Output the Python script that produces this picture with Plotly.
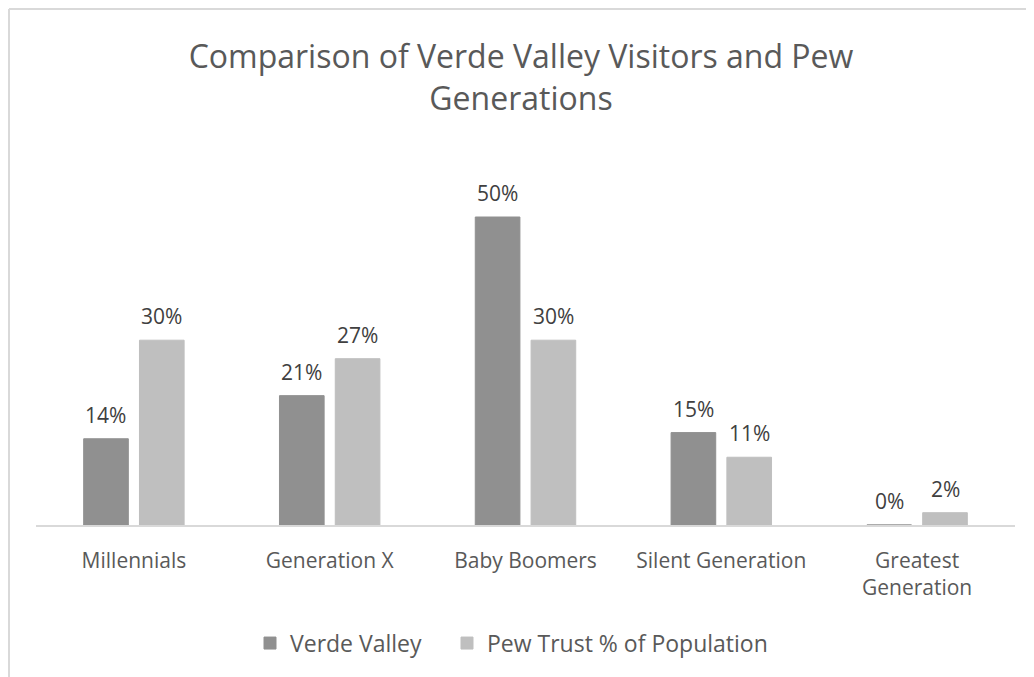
import plotly.graph_objects as go

# Values
generations = ["Millennials", "Generation X", "Baby Boomers", "Silent Generation", "Greatest<br>Generation"]
verde_valley = [14, 21, 50, 15, 0]
pew_trust = [30, 27, 30, 11, 2]
series = [("Verde Valley", verde_valley, "#909090"),
          ("Pew Trust % of Population", pew_trust, "#bfbfbf")]

# the page puts the figure 8px in from the top-left corner
OFF = 8
W, H = 1034 - OFF, 677 - OFF
left, right = 36 - OFF, 1015 - OFF
top, base = 180 - OFF, 525 - OFF
px_per_pct = 6.16
ymax = (base - top) / px_per_pct
bargap, bargroupgap = 0.43, 0.2
pw = right - left
ph = base - top

fig = go.Figure()
legend_ids = ["legend", "legend2"]
for (name, vals, color), lg in zip(series, legend_ids):
    fig.add_trace(go.Bar(
        x=generations, y=vals, name=name, legend=lg,
        marker=dict(color=color, line=dict(width=1, color=color)),
    ))

# data labels, centred about 24px above each bar
slot = pw / len(generations) * (1 - bargap) / len(series)
for i, (name, vals, color) in enumerate(series):
    dx = (i - (len(series) - 1) / 2) * slot
    for g, v in zip(generations, vals):
        fig.add_annotation(x=g, y=v, text=f"{v}%", showarrow=False,
                           xshift=dx, yshift=24, yanchor="middle",
                           font=dict(size=21, color="#404040"))

# outer chart border (left and top edges visible in the reference)
bx = (1 - left) / pw
by = (base - 1) / ph
fig.add_shape(type="line", xref="paper", yref="paper",
              x0=bx, x1=bx, y0=(base - 700) / ph, y1=by,
              line=dict(color="#d9d9d9", width=2))
fig.add_shape(type="line", xref="paper", yref="paper",
              x0=bx, x1=(1040 - left) / pw, y0=by, y1=by,
              line=dict(color="#d9d9d9", width=2))

legend_style = dict(orientation="h", xanchor="left", y=-0.28, yanchor="top",
                    font=dict(size=23, color="#595959"), itemwidth=30)

fig.update_layout(
    width=W, height=H,
    margin=dict(l=left, r=W - right, t=top, b=H - base),
    paper_bgcolor="white", plot_bgcolor="white",
    font=dict(family="Open Sans, Noto Sans, sans-serif", color="#595959"),
    title=dict(
        text="Comparison of Verde Valley Visitors and Pew<br>Generations",
        x=0.5, xanchor="center", y=(H - 60) / H, yanchor="top",
        font=dict(size=32, color="#595959"),
    ),
    barmode="group", bargap=bargap, bargroupgap=bargroupgap,
    showlegend=True,
    legend=dict(x=(250 - OFF - left) / pw, **legend_style),
    legend2=dict(x=(447 - OFF - left) / pw, **legend_style),
)
fig.update_xaxes(showline=True, linecolor="#d9d9d9", linewidth=1.5,
                 ticks="", ticklabelstandoff=16,
                 tickfont=dict(size=21, color="#595959"),
                 showgrid=False)
fig.update_yaxes(range=[0, ymax], visible=False, showgrid=False)

fig.write_html("out.html")
